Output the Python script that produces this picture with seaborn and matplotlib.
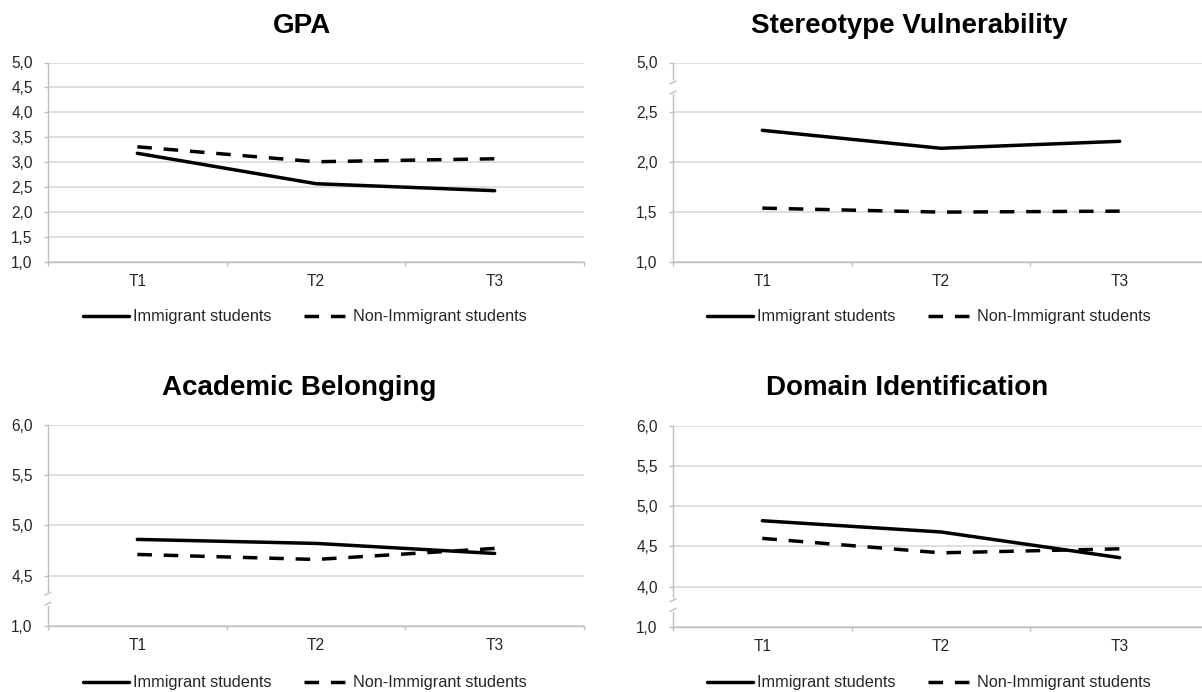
import numpy as np
import pandas as pd
import matplotlib
matplotlib.use("Agg")
import matplotlib.pyplot as plt
import matplotlib.transforms as mtransforms
import seaborn as sns

# ---------------- data ----------------
times = ["T1", "T2", "T3"]
groups = ["Immigrant students", "Non-Immigrant students"]

gpa_imm = [3.18, 2.57, 2.43]
gpa_non = [3.31, 3.01, 3.07]
sv_imm = [2.32, 2.14, 2.21]
sv_non = [1.54, 1.50, 1.51]
ab_imm = [4.86, 4.82, 4.72]
ab_non = [4.71, 4.66, 4.77]
di_imm = [4.82, 4.68, 4.36]
di_non = [4.60, 4.42, 4.47]

titles = ["GPA", "Stereotype Vulnerability", "Academic Belonging", "Domain Identification"]

gpa_ticks = [1.0, 1.5, 2.0, 2.5, 3.0, 3.5, 4.0, 4.5, 5.0]
gpa_labels = ["1,0", "1,5", "2,0", "2,5", "3,0", "3,5", "4,0", "4,5", "5,0"]
sv_ticks = [1.0, 1.5, 2.0, 2.5, 3.0]
sv_labels = ["1,0", "1,5", "2,0", "2,5", "5,0"]
ab_ticks = [4.0, 4.5, 5.0, 5.5, 6.0]
ab_labels = ["1,0", "4,5", "5,0", "5,5", "6,0"]
di_ticks = [3.5, 4.0, 4.5, 5.0, 5.5, 6.0]
di_labels = ["1,0", "4,0", "4,5", "5,0", "5,5", "6,0"]

# ---------------- style ----------------
sns.set_theme(style="white")
plt.rcParams["font.family"] = ["Liberation Sans", "DejaVu Sans"]

W, H = 1202, 692
fig = plt.figure(figsize=(W / 100, H / 100), dpi=100)
fig.patch.set_facecolor("white")

GRID = "#d9d9d9"
SPINE = "#bfbfbf"
TXT = "#262626"
LW = 2.5

panels = [
    dict(title=titles[0], imm=gpa_imm, non=gpa_non, ticks=gpa_ticks, labels=gpa_labels,
         box=(48, 62.5, 536, 199.5), brk=None, tpos=(302, 33), leg=(305, 317)),
    dict(title=titles[1], imm=sv_imm, non=sv_non, ticks=sv_ticks, labels=sv_labels,
         box=(673, 62.5, 536, 199.5), brk=(2.70, 2.80), tpos=(909, 33), leg=(929, 317)),
    dict(title=titles[2], imm=ab_imm, non=ab_non, ticks=ab_ticks, labels=ab_labels,
         box=(48, 425, 536, 200.7), brk=(4.22, 4.32), tpos=(299, 395), leg=(305, 683)),
    dict(title=titles[3], imm=di_imm, non=di_non, ticks=di_ticks, labels=di_labels,
         box=(673, 426, 536, 200.7), brk=(3.71, 3.83), tpos=(907, 395), leg=(929, 683)),
]

for p in panels:
    x0, top, w, h = p["box"]
    ax = fig.add_axes([x0 / W, 1 - (top + h) / H, w / W, h / H])
    df = pd.DataFrame({
        "time": times * 2,
        "value": list(p["imm"]) + list(p["non"]),
        "group": [groups[0]] * 3 + [groups[1]] * 3,
    })
    sns.lineplot(data=df, x="time", y="value", hue="group", style="group",
                 palette={groups[0]: "black", groups[1]: "black"},
                 dashes={groups[0]: "", groups[1]: (4.2, 3.4)},
                 linewidth=LW, ax=ax, legend=True, sort=False)
    ax.set_xlim(-0.5, 2.5)
    ax.set_ylim(p["ticks"][0], p["ticks"][-1])
    ax.set_yticks(p["ticks"])
    ax.set_yticklabels(p["labels"])
    ax.set_xticks(range(len(times)))
    ax.set_xticklabels(times)
    ax.set_xticks([-0.5, 0.5, 1.5, 2.5], minor=True)
    ax.set_xlabel("")
    ax.set_ylabel("")
    ax.grid(axis="y", color=GRID, linewidth=1.2, zorder=0)
    ax.set_axisbelow(True)
    for s in ["top", "right"]:
        ax.spines[s].set_visible(False)
    for s in ["left", "bottom"]:
        ax.spines[s].set_color(SPINE)
        ax.spines[s].set_linewidth(1.0)
    ax.tick_params(axis="y", which="major", length=3, width=1, color=SPINE,
                   labelsize=11.2, labelcolor=TXT, pad=8, left=True)
    ax.tick_params(axis="x", which="major", length=0, labelsize=11.2, labelcolor=TXT, pad=9)
    ax.tick_params(axis="x", which="minor", length=3, width=1, color=SPINE, bottom=True)

    # axis break marks
    if p["brk"] is not None:
        b0, b1 = p["brk"]
        trans = mtransforms.blended_transform_factory(ax.transAxes, ax.transData)
        ax.plot([0, 0], [b0, b1], color="white", lw=3, transform=trans,
                clip_on=False, zorder=6)
        dx = 3 / w
        per_px = (p["ticks"][-1] - p["ticks"][0]) / h
        for b in (b0, b1):
            ax.plot([-dx, dx], [b - 1.5 * per_px, b + 1.5 * per_px], color=SPINE,
                    lw=1, transform=trans, clip_on=False, zorder=7)

    handles, labels = ax.get_legend_handles_labels()
    for hd in handles:
        hd.set_linewidth(LW)
    ax.legend(handles, labels, loc="center",
              bbox_to_anchor=(p["leg"][0] / W, 1 - p["leg"][1] / H),
              bbox_transform=fig.transFigure, ncol=2, frameon=False,
              handlelength=2.8, handletextpad=0.25, columnspacing=2.0,
              fontsize=11.7, labelcolor=TXT)

    fig.text(p["tpos"][0] / W, 1 - p["tpos"][1] / H, p["title"], ha="center",
             va="baseline", fontsize=20, fontweight="bold", color="black")

fig.savefig("out.png", dpi=100, facecolor="white")
